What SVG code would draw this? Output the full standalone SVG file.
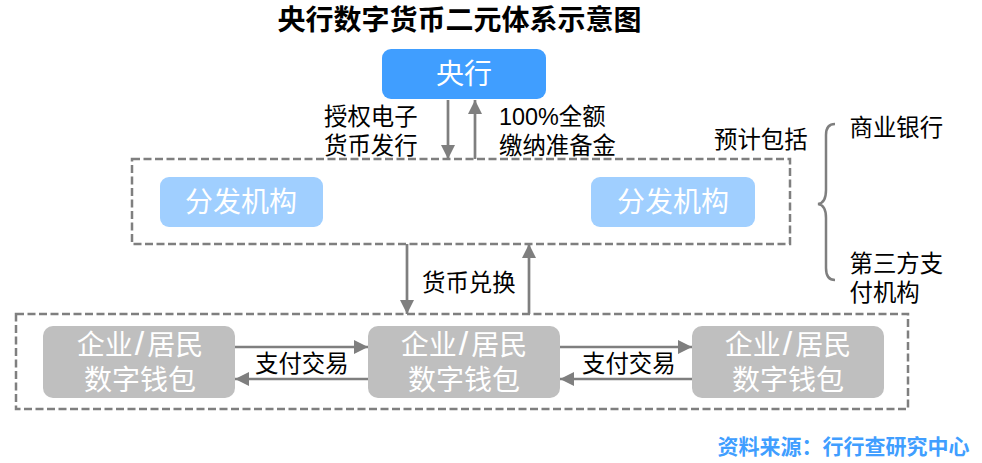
<svg xmlns="http://www.w3.org/2000/svg" width="982" height="463" viewBox="0 0 982 463">
<style>
text{font-family:"Liberation Sans","Noto Sans CJK SC",sans-serif;text-anchor:middle}
.l{font-size:23.4px;fill:#000}
.s{text-anchor:start}
.n{font-size:28px;fill:#fff}
.sl{font-size:34px}
.d{fill:none;stroke:#7f7f7f;stroke-width:2.5;stroke-dasharray:8 3.5}
.c{fill:none;stroke:#7f7f7f;stroke-width:2.7;marker-end:url(#a)}
</style>
<defs><marker id="a" markerUnits="userSpaceOnUse" markerWidth="15" markerHeight="14" refX="14" refY="7" orient="auto"><path d="M0 0L14 7L0 14Z" fill="#7f7f7f"/></marker></defs>
<rect width="982" height="463" fill="#fff"/>
<text x="459.500" y="30" style="font-size:28px;font-weight:700">央行数字货币二元体系示意图</text>
<g id="region-dist"><rect class="d" x="132" y="159" width="658" height="85"/></g>
<g id="region-wallet"><rect class="d" x="16" y="314" width="892" height="95"/></g>
<g id="connectors">
<path class="c" d="M448 100V159"/><path class="c" d="M475 159V100"/>
<path class="c" d="M407 244V314"/><path class="c" d="M529 314V244"/>
<path class="c" d="M235 347H368"/><path class="c" d="M368 379H235"/>
<path class="c" d="M560 347H692"/><path class="c" d="M692 379H560"/>
<path d="M835 124Q826 124 826 135V190Q826 203 818 204Q826 205 826 218V268Q826 280 835 280" fill="none" stroke="#7f7f7f" stroke-width="2.5"/>
</g>
<g id="n-central"><rect x="382" y="49" width="164" height="50" rx="9" fill="#409eff"/><text class="n" x="464" y="84">央行</text></g>
<g id="n-dist1"><rect x="160" y="177" width="163" height="50" rx="9" fill="#a0cfff"/><text class="n" x="241" y="212">分发机构</text></g>
<g id="n-dist2"><rect x="591" y="177" width="164" height="50" rx="9" fill="#a0cfff"/><text class="n" x="673" y="212">分发机构</text></g>
<g id="n-w1"><rect x="43" y="326" width="192" height="72" rx="10" fill="#bfbfbf"/><text class="n" x="140" y="355">企业<tspan class="sl" dx="2">/</tspan><tspan dx="3">居民</tspan></text><text class="n" x="140" y="390">数字钱包</text></g>
<g id="n-w2"><rect x="368" y="326" width="192" height="72" rx="10" fill="#bfbfbf"/><text class="n" x="464" y="355">企业<tspan class="sl" dx="2">/</tspan><tspan dx="3">居民</tspan></text><text class="n" x="464" y="390">数字钱包</text></g>
<g id="n-w3"><rect x="692" y="326" width="192" height="72" rx="10" fill="#bfbfbf"/><text class="n" x="788" y="355">企业<tspan class="sl" dx="2">/</tspan><tspan dx="3">居民</tspan></text><text class="n" x="788" y="390">数字钱包</text></g>
<g id="labels">
<text class="l s" x="324" y="125">授权电子</text><text class="l s" x="324" y="154">货币发行</text>
<text class="l s" x="499" y="125">100%全额</text><text class="l s" x="499" y="154">缴纳准备金</text>
<text class="l s" x="714" y="148">预计包括</text>
<text class="l s" x="849.500" y="136">商业银行</text>
<text class="l s" x="849.500" y="272">第三方支</text><text class="l s" x="849.500" y="301">付机构</text>
<text class="l s" x="422" y="291">货币兑换</text>
<text class="l s" x="255" y="372">支付交易</text><text class="l s" x="582" y="372">支付交易</text>
<text x="843.500" y="454" style="font-size:21px;font-weight:700;fill:#409eff">资料来源：行行查研究中心</text>
</g>
</svg>
